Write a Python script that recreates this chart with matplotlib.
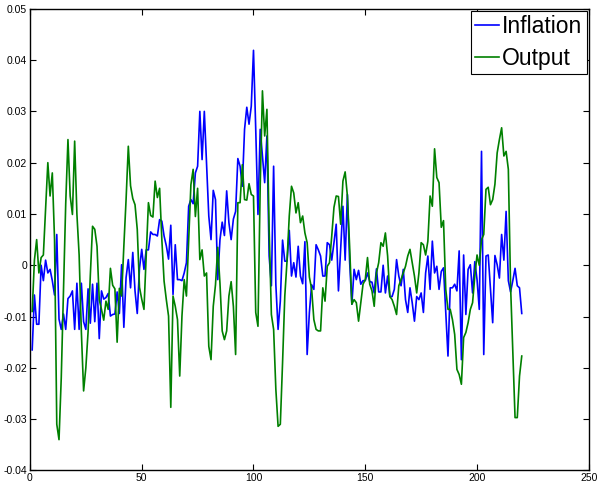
import matplotlib
matplotlib.use("Agg")
import matplotlib.pyplot as plt
import numpy as np
from matplotlib.ticker import FuncFormatter

inflation = [
    -0.0165, -0.0058, -0.0115, -0.0115, 0.0, -0.003, 0.001, -0.0015, -0.0008, -0.003,
    -0.0058, 0.006, -0.0105, -0.0125, -0.0095, -0.0125, -0.0065, -0.006, -0.005, -0.0125,
    -0.0035, -0.0125, -0.0035, -0.011, -0.0125, -0.0046, -0.0113, -0.0037, -0.011, -0.0035,
    -0.0143, -0.005, -0.0066, -0.0063, -0.0055, -0.0099, -0.0096, -0.0095, -0.0052, -0.0094,
    0.0001, -0.0121, -0.0024, 0.0011, -0.0044, 0.0025, -0.005, -0.0094, -0.0006, 0.0031,
    -0.0008, 0.003, 0.003, 0.0065, 0.006, 0.006, 0.0057, 0.0089, 0.0086, 0.0057,
    0.0038, 0.0012, 0.0078, -0.0057, 0.004, -0.0028, -0.0028, -0.003, -0.0015, 0.0005,
    0.0115, 0.0128, 0.012, 0.018, 0.0193, 0.030, 0.0206, 0.030, 0.020, 0.0096,
    0.005, 0.0146, 0.0128, -0.0028, 0.005, 0.0084, 0.0058, 0.0145, 0.0083, 0.005,
    0.009, 0.0105, 0.0208, 0.0193, 0.0154, 0.0265, 0.0308, 0.0275, 0.031, 0.0419,
    0.0265, 0.0099, 0.0265, 0.0213, 0.0161, 0.0252, 0.0018, -0.004, 0.0193, -0.0038,
    -0.0125, -0.007, 0.0049, 0.0008, 0.0008, 0.0068, -0.0021, 0.0005, -0.0023, 0.0037,
    -0.0021, -0.0036, 0.0046, -0.0174, -0.0092, -0.0038, -0.0047, 0.004, 0.003, 0.0018,
    -0.0021, -0.0021, 0.0044, 0.004, 0.001, 0.0044, 0.008, -0.005, 0.0031, 0.0115,
    0.001, 0.0138, 0.0007, -0.0076, -0.0008, -0.0028, -0.001, -0.0037, -0.003, -0.003,
    -0.0015, -0.0032, -0.0033, -0.0054, -0.0007, -0.0052, -0.0052, 0.0, -0.0054, -0.0021,
    -0.0061, -0.0061, -0.0047, 0.0011, -0.0021, -0.004, -0.0008, -0.0067, -0.0092, -0.0044,
    -0.0073, -0.0109, -0.0061, -0.0067, -0.0054, -0.0092, -0.0015, 0.0018, -0.0047, 0.0047,
    -0.0015, -0.0002, -0.0047, -0.0012, -0.0005, -0.0089, -0.0177, -0.0044, -0.0044, -0.0037,
    -0.005, 0.0028, -0.0184, 0.002, -0.0096, -0.0008, 0.0001, -0.0054, 0.0007, -0.0028,
    -0.0086, 0.0222, -0.0174, 0.0018, 0.002, -0.0047, -0.0112, 0.0019, 0.0001, -0.0025,
    0.006, 0.001, 0.0105, -0.003, -0.0052, -0.003, -0.0006, -0.004, -0.0044, -0.0094,
]

output = [
    -0.009, 0.001, 0.005, -0.0015, 0.0015, 0.002, 0.011, 0.020, 0.0135, 0.018,
    0.005, -0.031, -0.034, -0.022, -0.005, 0.012, 0.0245, 0.0135, 0.0099, 0.0242,
    0.010, 0.002, -0.013, -0.0245, -0.020, -0.013, -0.002, 0.0076, 0.007, 0.0037,
    -0.0067, -0.0086, -0.0107, -0.007, -0.0086, -0.0006, -0.0039, -0.0046, -0.015, -0.0045,
    -0.006, 0.0037, 0.0128, 0.0232, 0.0155, 0.013, 0.0118, 0.007, -0.0043, -0.0066,
    -0.0086, 0.002, 0.0122, 0.0097, 0.0094, 0.0164, 0.0132, 0.015, 0.005, -0.0031,
    -0.0067, -0.0099, -0.0277, -0.006, -0.008, -0.0106, -0.0216, -0.0099, -0.0028, -0.006,
    0.005, 0.0157, 0.0187, 0.0095, 0.015, 0.0011, 0.003, -0.0021, -0.0015, -0.0158,
    -0.0184, -0.008, -0.0038, 0.0035, -0.0035, -0.0128, -0.0145, -0.0128, -0.006, -0.0032,
    -0.008, -0.0174, 0.0122, 0.0122, 0.0196, 0.0128, 0.0127, 0.0159, 0.0138, 0.0135,
    -0.0092, -0.0119, 0.0154, 0.034, 0.0252, 0.0304, 0.007, -0.0096, -0.0125, -0.0242,
    -0.0314, -0.031, -0.019, -0.006, 0.0008, 0.0096, 0.0154, 0.0141, 0.0102, 0.0122,
    0.0083, 0.0096, 0.0063, 0.0044, -0.0023, -0.0046, -0.0106, -0.0125, -0.0128, -0.0128,
    -0.0044, -0.007, -0.0002, 0.0005, 0.0057, 0.0113, 0.0135, 0.0134, 0.008, 0.0164,
    0.0182, 0.0135, 0.0037, -0.0076, -0.0067, -0.0073, -0.0109, -0.0073, -0.0037, -0.0028,
    0.0015, -0.0037, -0.005, -0.008, -0.0015, 0.0005, 0.0044, 0.0037, 0.0063, 0.0018,
    -0.0061, -0.0067, -0.008, -0.0096, -0.004, -0.0028, -0.0015, -0.0002, 0.0018, 0.0031,
    0.0005, -0.0021, -0.0054, -0.0015, 0.0044, 0.004, 0.002, 0.0047, 0.0135, 0.0115,
    0.0227, 0.0171, 0.0161, 0.0074, 0.0087, -0.0047, -0.0086, -0.0086, -0.0106, -0.0135,
    -0.0203, -0.0213, -0.0232, -0.0141, -0.0131, -0.0112, -0.0086, -0.0073, -0.0021, 0.002,
    0.0, 0.005, 0.006, 0.0148, 0.0152, 0.0118, 0.0128, 0.0158, 0.0219, 0.0245,
    0.0268, 0.0213, 0.0222, 0.0187, -0.004, -0.0171, -0.0297, -0.0297, -0.0216, -0.0177,
]

series_names = ["Inflation", "Output"]
x_ticks = [0, 50, 100, 150, 200, 250]
y_ticks = [-0.04, -0.03, -0.02, -0.01, 0, 0.01, 0.02, 0.03, 0.04, 0.05]

plt.rcParams['font.family'] = ['Liberation Sans', 'DejaVu Sans']

fig = plt.figure(figsize=(5.99, 4.87), dpi=100)
ax = fig.add_axes([0.050, 0.034, 0.933, 0.948])

t_inf = np.arange(1, len(inflation) + 1)
t_out = np.arange(1, len(output) + 1)
ax.plot(t_inf, inflation, color=(0, 0, 1), lw=1.2, label=series_names[0])
ax.plot(t_out, output, color=(0, 0.5, 0), lw=1.2, label=series_names[1])

ax.set_xlim(0, 250)
ax.set_ylim(-0.04, 0.05)
ax.set_xticks(x_ticks)
ax.set_yticks(y_ticks)
ax.yaxis.set_major_formatter(FuncFormatter(lambda v, p: "0" if abs(v) < 1e-12 else ("%g" % round(v, 4))))
ax.tick_params(direction='in', length=4, width=0.8, labelsize=7.5, top=True, right=True,
               labeltop=False, labelright=False, pad=2)
for s in ax.spines.values():
    s.set_linewidth(1.0)

leg = ax.legend(loc='upper right', fontsize=16.5, frameon=True, fancybox=False,
                edgecolor='black', framealpha=1, handlelength=1.05, handletextpad=0.15,
                borderpad=0.18, labelspacing=0.38, borderaxespad=0.1)
leg.get_frame().set_linewidth(0.8)

fig.savefig("out.png", dpi=100)
